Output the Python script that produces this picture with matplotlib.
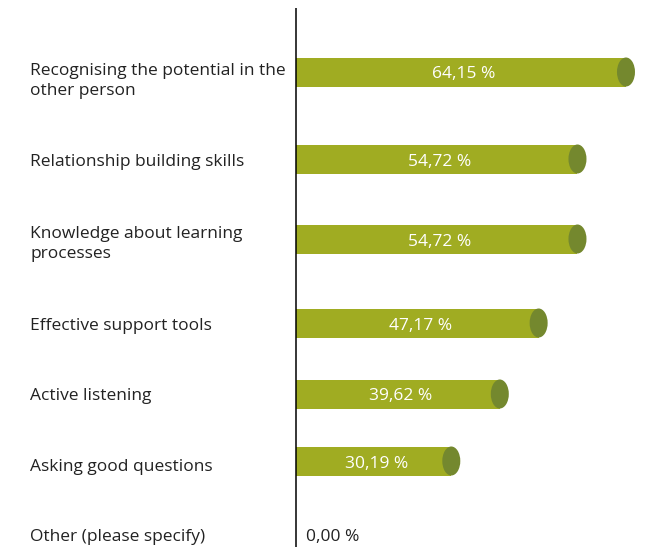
import matplotlib
matplotlib.use("Agg")
import matplotlib.pyplot as plt
from matplotlib.patches import Ellipse

categories = [
    "Recognising the potential in the\nother person",
    "Relationship building skills",
    "Knowledge about learning\nprocesses",
    "Effective support tools",
    "Active listening",
    "Asking good questions",
    "Other (please specify)",
]
values = [64.15, 54.72, 54.72, 47.17, 39.62, 30.19, 0.00]
value_labels = ["64,15 %", "54,72 %", "54,72 %", "47,17 %", "39,62 %", "30,19 %", "0,00 %"]

# layout (pixel rows)
bar_y = [72, 159, 239, 323, 394, 461, 536]
label_y = [80, 161, 243, 325, 395, 466, 536]

W, H = 656, 547
px_per = 5.144
x0 = 296

plt.rcParams['font.family'] = ['Open Sans', 'DejaVu Sans']
fig = plt.figure(figsize=(W / 100, H / 100), dpi=100)
ax = fig.add_axes([0, 0, 1, 1])
ax.set_xlim(-x0 / px_per, (W - x0) / px_per)
ax.set_ylim(H, 0)
ax.axis('off')

bar_color = '#a0ac22'
cap_color = '#74882e'
bh = 29
cap_w = 18 / px_per
fs = 12.5

for cat, v, lab, by, ly in zip(categories, values, value_labels, bar_y, label_y):
    ax.text(30 / px_per - x0 / px_per, ly + 1, cat, ha='left', va='center',
            fontsize=fs, color='#222222', linespacing=1.4)
    if v > 0:
        ax.barh(by, v, height=bh, left=0, color=bar_color, zorder=2)
        ax.add_patch(Ellipse((v, by), cap_w, bh, color=cap_color, zorder=3, lw=0))
        ax.text(v / 2 + 0.6, by + 2.5, lab, ha='center', va='center',
                fontsize=fs, color='white', zorder=4)
    else:
        ax.text(10 / px_per, by + 1, lab, ha='left', va='center',
                fontsize=fs, color='#222222')

ax.plot([0, 0], [8, H], color='black', lw=1.1, zorder=5, solid_capstyle='butt')

fig.savefig('out.png', dpi=100)
